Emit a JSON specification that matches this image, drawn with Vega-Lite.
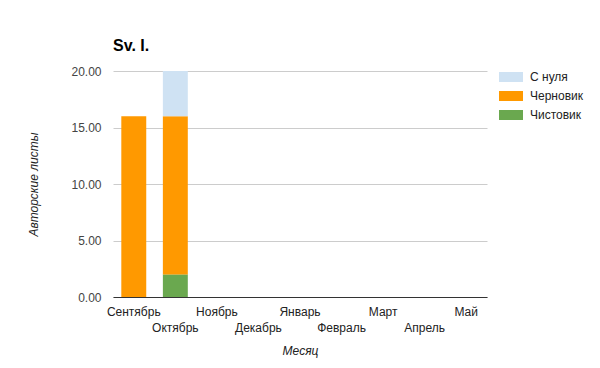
{
  "$schema": "https://vega.github.io/schema/vega-lite/v6.json",
  "width": 374,
  "height": 226,
  "autosize": {"type": "none"},
  "padding": {"left": 113, "top": 71, "right": 113, "bottom": 71},
  "background": "white",
  "config": {
    "font": "Liberation Sans",
    "view": {"stroke": null}
  },
  "title": {
    "text": "Sv. I.",
    "anchor": "start",
    "frame": "group",
    "fontSize": 16,
    "fontWeight": "bold",
    "color": "#000000",
    "baseline": "alphabetic",
    "offset": -2
  },
  "data": {
    "values": [
      {"month": "Сентябрь", "type": "Черновик", "value": 16},
      {"month": "Октябрь", "type": "Чистовик", "value": 2},
      {"month": "Октябрь", "type": "Черновик", "value": 14},
      {"month": "Октябрь", "type": "С нуля", "value": 4}
    ]
  },
  "mark": {"type": "bar"},
  "encoding": {
    "x": {
      "field": "month",
      "type": "nominal",
      "sort": null,
      "scale": {
        "domain": ["Сентябрь", "Октябрь", "Ноябрь", "Декабрь", "Январь", "Февраль", "Март", "Апрель", "Май"],
        "paddingInner": 0.4,
        "paddingOuter": 0.2
      },
      "axis": {
        "title": "Месяц",
        "titleFontStyle": "italic",
        "titleFontWeight": "normal",
        "titleFontSize": 12,
        "titleColor": "#222222",
        "titlePadding": 12,
        "labelAngle": 0,
        "labelFontSize": 12,
        "labelColor": "#222222",
        "labelOverlap": false,
        "labelPadding": 9,
        "labelLineHeight": 16,
        "labelExpr": "indexof(['Октябрь','Декабрь','Февраль','Апрель'], datum.value) >= 0 ? ['', datum.value] : datum.value",
        "ticks": false,
        "domainColor": "#333333",
        "domainWidth": 1
      }
    },
    "y": {
      "field": "value",
      "type": "quantitative",
      "aggregate": "sum",
      "scale": {"domain": [0, 20], "nice": false},
      "axis": {
        "title": "Авторские листы",
        "titleFontStyle": "italic",
        "titleFontWeight": "normal",
        "titleFontSize": 12,
        "titleColor": "#222222",
        "titlePadding": 30,
        "values": [0, 5, 10, 15, 20],
        "format": ".2f",
        "labelFontSize": 12,
        "labelColor": "#444444",
        "labelPadding": 12,
        "ticks": false,
        "domain": false,
        "gridColor": "#cccccc"
      }
    },
    "color": {
      "field": "type",
      "type": "nominal",
      "scale": {
        "domain": ["С нуля", "Черновик", "Чистовик"],
        "range": ["#cfe2f3", "#ff9900", "#6aa84f"]
      },
      "legend": {
        "title": null,
        "orient": "none",
        "legendX": 392,
        "legendY": 0,
        "symbolType": "M-2.4,-1H2.4V1H-2.4Z",
        "symbolSize": 100,
        "symbolStrokeWidth": 0,
        "symbolOpacity": 1,
        "labelFontSize": 12,
        "labelColor": "#222222",
        "rowPadding": 7,
        "labelOffset": 13
      }
    },
    "order": {"field": "type", "sort": "descending"}
  }
}
